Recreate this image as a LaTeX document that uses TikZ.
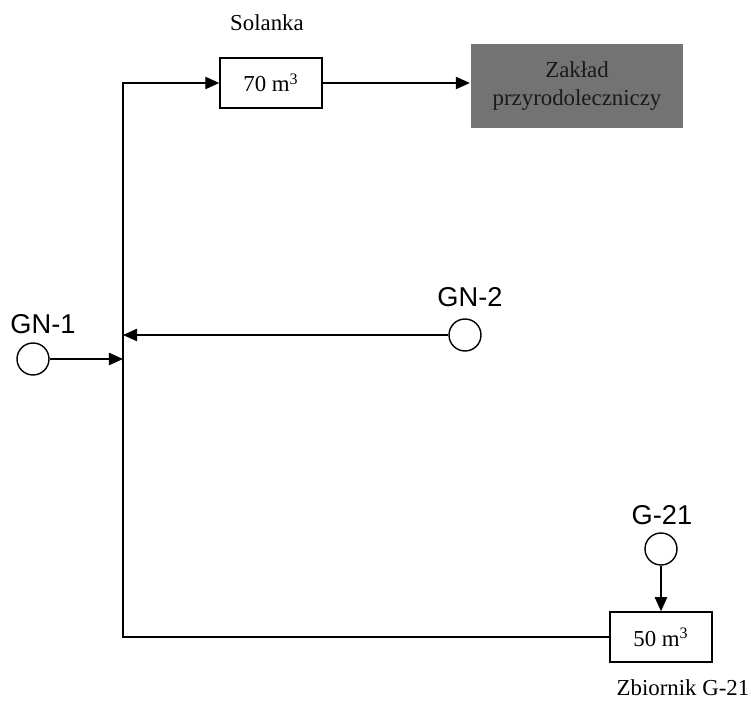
\documentclass[tikz,border=0pt]{standalone}
\usepackage{fontspec}
\setmainfont{Liberation Serif}
\setsansfont{Liberation Sans}
\usetikzlibrary{arrows.meta,positioning}

\begin{document}
\begin{tikzpicture}[x=0.02cm, y=-0.02cm, >={Triangle[length=8pt,width=7pt]}, line width=0.8pt,
    tank/.style={rectangle, draw, minimum width=2.04cm, minimum height=1cm, inner sep=0pt, font=\fontsize{13}{15}\selectfont},
    well/.style={circle, draw, minimum size=0.64cm, inner sep=0pt},
    lbl/.style={font=\fontsize{13}{16}\selectfont},
    wlbl/.style={font=\sffamily\fontsize{15.5}{18}\selectfont}]

    \useasboundingbox (0,0) rectangle (751,705);

    % Tanks and target
    \node[lbl] (solanka) at (267,23) {Solanka};
    \node[tank] (t70) at (271,83) {70 m\textsuperscript{3}};
    \node[lbl, rectangle, fill=black!55, text=black!90, minimum width=4.26cm, minimum height=1.68cm, align=center] (zaklad) at (577,86) {Zakład\\przyrodoleczniczy};
    \node[tank] (t50) at (661,637) {50 m\textsuperscript{3}};
    \node[lbl] (zbiornik) at (683,688) {Zbiornik G-21};

    % Wells
    \node[well] (gn1) at (33,359) {};
    \node[wlbl] (gn1lbl) at (43,324) {GN-1};
    \node[well] (gn2) at (465,335) {};
    \node[wlbl] (gn2lbl) at (470,297) {GN-2};
    \node[well] (g21) at (661,549) {};
    \node[wlbl] (g21lbl) at (662,515) {G-21};

    % Main pipe
    \coordinate (top) at (123,83);
    \coordinate (bot) at (123,637);

    \draw[->] (t50.west) -- (bot) -- (top) -- (t70.west);
    \draw[->] (t70.east) -- (t70.east -| zaklad.west);
    \draw[->] (gn1.east) -- (gn1.east -| top);
    \draw[->] (gn2.west) -- (gn2.west -| top);
    \draw[->] (g21.south) -- (t50.north);
\end{tikzpicture}
\end{document}
